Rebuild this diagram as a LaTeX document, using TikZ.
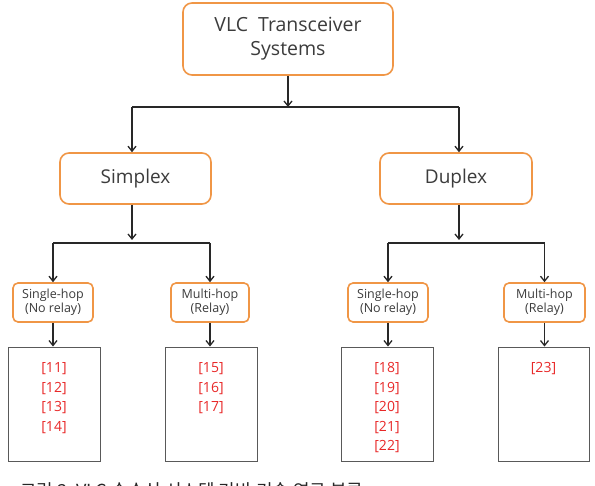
\documentclass[tikz,border=0pt]{standalone}
\usepackage{fontspec}
\setmainfont{Open Sans}
\newfontfamily\kofont{Noto Sans CJK KR}
\usetikzlibrary{arrows.meta,positioning}

\definecolor{boxedge}{RGB}{240,150,70}
\definecolor{boxtext}{RGB}{60,60,60}
\definecolor{refred}{RGB}{232,40,40}
\definecolor{wire}{RGB}{40,40,40}

\tikzset{
  topic/.style={draw=boxedge, line width=1.6pt, rounded corners=9pt, fill=white,
    text=boxtext, align=center, inner sep=0pt},
  hopbox/.style={draw=boxedge, line width=1.6pt, rounded corners=5pt, fill=white,
    text=boxtext, align=center, inner sep=0pt, minimum height=39pt,
    font=\fontsize{12.5}{14}\selectfont},
  refbox/.style={draw=black!65, line width=0.9pt, minimum width=92pt, minimum height=114pt},
  reflist/.style={text=refred, align=center, anchor=north, inner sep=0pt,
    font=\fontsize{14}{19.5}\selectfont},
  flow/.style={draw=wire, line width=1.3pt, -{Straight Barb[length=5pt,width=8pt]}},
  bar/.style={draw=wire, line width=1.3pt}
}

\begin{document}
\begin{tikzpicture}[x=1pt,y=-1pt]
  \useasboundingbox (0,0) rectangle (595,486);

  %%%%% boxes %%%%%
  \node[topic, minimum width=210pt, minimum height=72pt,
    font=\fontsize{19.5}{24}\selectfont] (sys) at (288,39) {VLC\ \ Transceiver\\Systems};

  \node[topic, minimum width=151pt, minimum height=51pt,
    font=\fontsize{19}{22}\selectfont] (simplex) at (135.5,178.5) {Simplex};
  \node[topic, minimum width=152pt, minimum height=51pt,
    font=\fontsize{19}{22}\selectfont] (duplex) at (456,178.5) {Duplex};

  \node[hopbox, minimum width=80pt] (ssingle) at (53,302.5) {Single-hop\\(No relay)};
  \node[hopbox, minimum width=78pt] (smulti) at (210,302.5) {Multi-hop\\(Relay)};
  \node[hopbox, minimum width=80pt] (dsingle) at (388,302.5) {Single-hop\\(No relay)};
  \node[hopbox, minimum width=81pt] (dmulti) at (544.5,302.5) {Multi-hop\\(Relay)};

  \node[refbox] (sref) at (54,404) {};
  \node[refbox] (mref) at (211,404) {};
  \node[refbox] (dref) at (387,404) {};
  \node[refbox, minimum width=91pt] (rref) at (543.5,404) {};

  % braces keep \\ from reading [..] as a skip
  \node[reflist] (slist) at ([yshift=-16pt]sref.north) {[11]\\{[12]}\\{[13]}\\{[14]}};
  \node[reflist] (mlist) at ([yshift=-16pt]mref.north) {[15]\\{[16]}\\{[17]}};
  \node[reflist] (dlist) at ([yshift=-16pt]dref.north) {[18]\\{[19]}\\{[20]}\\{[21]}\\{[22]}};
  \node[reflist] (rlist) at ([yshift=-16pt]rref.north) {[23]};

  %%%%% connectors %%%%%
  \coordinate (split) at (288,107);
  \coordinate (ssplit) at (132,243);
  \coordinate (dsplit) at (459,243);

  \draw[flow] (sys) -- (split);
  \draw[bar] (132,107) -- (459,107);
  \draw[flow] (132,107) -- (simplex.north -| 132,0);
  \draw[flow] (459,107) -- (duplex.north -| 459,0);

  \draw[flow] (simplex.south -| ssplit) -- ([yshift=3pt]ssplit);
  \draw[bar] (ssingle.north |- ssplit) -- (smulti.north |- ssplit);
  \draw[flow] (ssingle.north |- ssplit) -- (ssingle);
  \draw[flow] (smulti.north |- ssplit) -- (smulti);

  \draw[flow] (duplex.south -| dsplit) -- ([yshift=3pt]dsplit);
  \draw[bar] (dsingle.north |- dsplit) -- (dmulti.north |- dsplit);
  \draw[flow] (dsingle.north |- dsplit) -- (dsingle);
  \draw[flow] (dmulti.north |- dsplit) -- (dmulti);

  \draw[flow] (ssingle) -- (ssingle.south |- sref.north);
  \draw[flow] (smulti) -- (smulti.south |- mref.north);
  \draw[flow] (dsingle) -- (dsingle.south |- dref.north);
  \draw[flow] (dmulti) -- (dmulti.south |- rref.north);

  %%%%% caption, cut off at the page edge %%%%%
  \begin{scope}
    \clip (0,0) rectangle (595,486);
    \node[anchor=north west, inner sep=0pt, text=black!85,
      font=\kofont\fontsize{18}{20}\selectfont] (caption) at (20,482)
      {그림 3.\ VLC 송수신 시스템 기반 기술 연구 분류};
  \end{scope}
\end{tikzpicture}
\end{document}
